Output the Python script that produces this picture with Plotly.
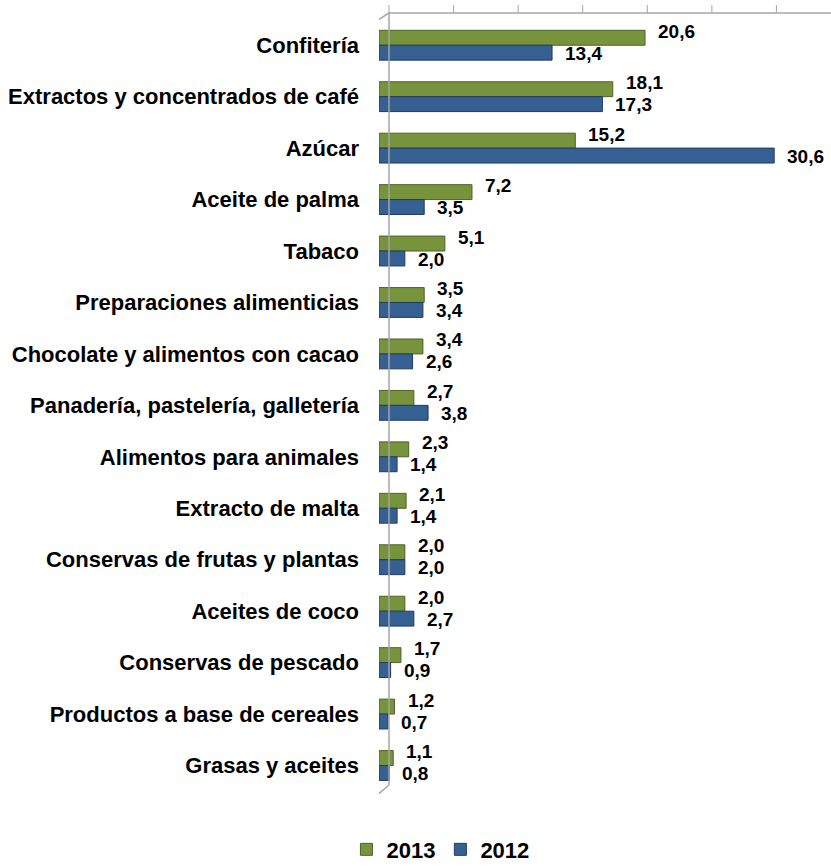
import plotly.graph_objects as go

categories = [
    "Confitería", "Extractos y concentrados de café", "Azúcar", "Aceite de palma",
    "Tabaco", "Preparaciones alimenticias", "Chocolate y alimentos con cacao",
    "Panadería, pastelería, galletería", "Alimentos para animales", "Extracto de malta",
    "Conservas de frutas y plantas", "Aceites de coco", "Conservas de pescado",
    "Productos a base de cereales", "Grasas y aceites",
]
values_2013 = [20.6, 18.1, 15.2, 7.2, 5.1, 3.5, 3.4, 2.7, 2.3, 2.1, 2.0, 2.0, 1.7, 1.2, 1.1]
values_2012 = [13.4, 17.3, 30.6, 3.5, 2.0, 3.4, 2.6, 3.8, 1.4, 1.4, 2.0, 2.7, 0.9, 0.7, 0.8]
x_ticks = [0, 5, 10, 15, 20, 25, 30]

def fmt(v):
    return f"{v:.1f}".replace(".", ",")

GREEN = "#77933C"
BLUE = "#376092"
GRID = "#A6A6A6"
FONT = "Liberation Sans, Arial, sans-serif"

fig = go.Figure()
fig.add_trace(go.Bar(
    y=categories, x=values_2013, orientation="h", name="2013",
    marker=dict(color=GREEN, line=dict(color="#4F6228", width=1)),
))
fig.add_trace(go.Bar(
    y=categories, x=values_2012, orientation="h", name="2012",
    marker=dict(color=BLUE, line=dict(color="#1F3C63", width=1)),
))

annotations = []
for cat, v in zip(categories, values_2013):
    annotations.append(dict(x=v, y=cat, xref="x", yref="y", text=fmt(v), showarrow=False,
                            xanchor="left", yanchor="middle", xshift=11, yshift=14,
                            font=dict(family=FONT, size=19, color="black", weight="bold")))
for cat, v in zip(categories, values_2012):
    annotations.append(dict(x=v, y=cat, xref="x", yref="y", text=fmt(v), showarrow=False,
                            xanchor="left", yanchor="middle", xshift=11, yshift=-8,
                            font=dict(family=FONT, size=19, color="black", weight="bold")))

line = dict(color=GRID, width=1.5)
shapes = []
# back wall top edge + tick marks
shapes.append(dict(type="line", xref="x", yref="paper", xsizemode="pixel", xanchor=0,
                   x0=10, x1=1000, ysizemode="pixel", yanchor=1, y0=6, y1=6, line=line))
for t in x_ticks:
    shapes.append(dict(type="line", xref="x", yref="paper", xsizemode="pixel", xanchor=t,
                       x0=10, x1=10, ysizemode="pixel", yanchor=1, y0=6, y1=14,
                       line=dict(color=GRID, width=1)))
# back wall vertical
shapes.append(dict(type="line", xref="x", yref="paper", xsizemode="pixel", xanchor=0,
                   x0=10, x1=10, ysizemode="pixel", yanchor=0, y0=7, y1=780, line=line))
# front axis line
shapes.append(dict(type="line", xref="x", yref="paper", xsizemode="pixel", xanchor=0,
                   x0=-4, x1=-4, ysizemode="pixel", yanchor=0, y0=-5, y1=770, line=line))
# diagonals
shapes.append(dict(type="line", xref="x", yref="paper", xsizemode="pixel", xanchor=0,
                   x0=-4, x1=10, ysizemode="pixel", yanchor=0, y0=-5, y1=7, line=line))
shapes.append(dict(type="line", xref="x", yref="paper", xsizemode="pixel", xanchor=0,
                   x0=-4, x1=10, ysizemode="pixel", yanchor=1, y0=-3, y1=6, line=line))
# category boundary ticks on front axis
for i in range(len(categories) + 1):
    shapes.append(dict(type="line", xref="x", yref="y", xsizemode="pixel", xanchor=0,
                       x0=-4, x1=-10, y0=i - 0.5, y1=i - 0.5, line=dict(color=GRID, width=1)))

fig.update_layout(
    width=831, height=866,
    margin=dict(l=379, r=0, t=19, b=74),
    plot_bgcolor="white", paper_bgcolor="white",
    barmode="group", bargap=0.42, bargroupgap=0,
    font=dict(family=FONT, size=22, color="black"),
    xaxis=dict(range=[0, 35], showticklabels=False, showgrid=False, zeroline=False,
               showline=False, ticks="", automargin=False),
    yaxis=dict(autorange="reversed", showline=False, ticks="", showgrid=False,
               automargin=False, ticklabelstandoff=19,
               tickfont=dict(family=FONT, size=22, color="black", weight="bold")),
    showlegend=True,
    legend=dict(orientation="h", xref="container", yref="container", x=0.53, y=0.019,
                xanchor="center", yanchor="middle",
                font=dict(family=FONT, size=22, color="black", weight="bold"),
                itemwidth=30),
    shapes=shapes,
    annotations=annotations,
    hovermode=False,
)

fig.write_html("out.html", config={"displayModeBar": False},
               post_script="document.body.style.margin='0px';document.body.style.overflow='hidden';")
